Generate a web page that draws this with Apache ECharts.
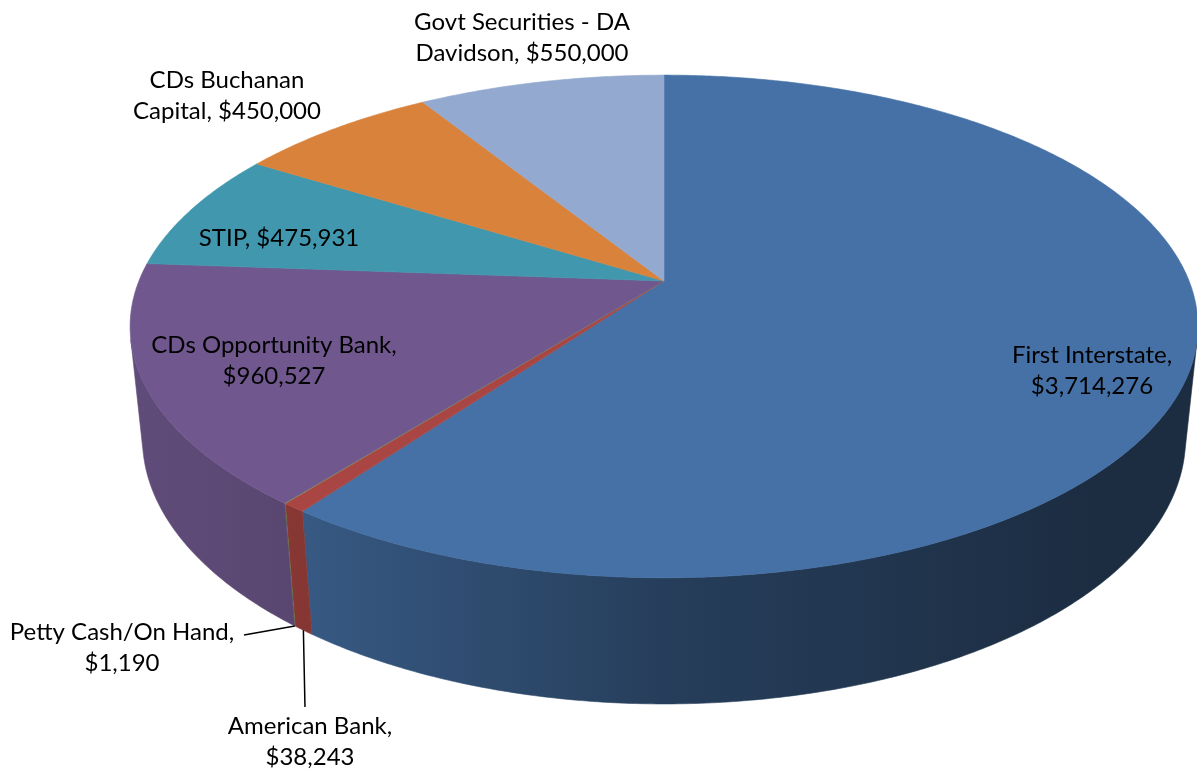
<!DOCTYPE html>
<html>
<head>
<meta charset="utf-8">
<script src="https://cdn.jsdelivr.net/npm/echarts@6/dist/echarts.min.js"></script>
<style>html,body{margin:0;padding:0;background:#fff;overflow:hidden}#c{width:1197px;height:774px}</style>
</head>
<body>
<div id="c"></div>
<script>
// ---- data ----
const categories = ['First Interstate', 'American Bank', 'Petty Cash/On Hand', 'CDs Opportunity Bank', 'STIP', 'CDs Buchanan Capital', 'Govt Securities - DA Davidson'];
const values = [3714276, 38243, 1190, 960527, 475931, 450000, 550000];
const colors = ['#4571A6', '#A94542', '#88A54C', '#70588E', '#4097AE', '#D9823B', '#93A9CF'];

// ---- layout (view + labels) ----
const VIEW = { cx: 664, cy: 281, F: 2573, D: 4.90, s: 0.463, c: 0.886, H: 0.243 };
// label block centers and number of words on first line (0 = single line)
const labelLayout = [
  { x: 1092, y: 371, words: 2 },
  { x: 310, y: 742, words: 2 },
  { x: 122, y: 648, words: 3 },
  { x: 274, y: 361, words: 3 },
  { x: 279, y: 238, words: 0 },
  { x: 227, y: 96, words: 2 },
  { x: 522, y: 38, words: 4 }
];
const leaderEnds = { 1: [305, 707], 2: [244, 635] };

const total = values.reduce((a, b) => a + b, 0);
let acc = 0;
const sliceData = values.map((v, i) => {
  const a0 = acc / total * 360; acc += v;
  const a1 = acc / total * 360;
  return { name: categories[i], value: [a0, a1, v] };
});

function proj(theta, h, r) {
  if (r === undefined) r = 1;
  const t = theta * Math.PI / 180;
  const u = r * Math.sin(t), v = -r * Math.cos(t);
  const depth = VIEW.D - h * VIEW.s - v * VIEW.c;
  return [VIEW.cx + VIEW.F * u / depth, VIEW.cy - VIEW.F * (h * VIEW.c - v * VIEW.s) / depth];
}
function shade(hex, f) {
  const n = parseInt(hex.slice(1), 16);
  const r = Math.round(((n >> 16) & 255) * f), g = Math.round(((n >> 8) & 255) * f), b = Math.round((n & 255) * f);
  return 'rgb(' + r + ',' + g + ',' + b + ')';
}
const shadeStops = [[0, 0.86], [0.16, 0.79], [0.5, 0.55], [0.9, 0.40], [1, 0.40]];
function sideFill(hex) {
  return new echarts.graphic.LinearGradient(130, 0, 1197, 0,
    shadeStops.map(s => ({ offset: s[0], color: shade(hex, s[1]) })), true);
}
const visK = 1 / (VIEW.D * VIEW.c);
const visA = Math.acos(-visK) * 180 / Math.PI, visB = 360 - visA;

function arc(a0, a1, h, step) {
  const pts = [];
  const n = Math.max(1, Math.ceil(Math.abs(a1 - a0) / step));
  for (let i = 0; i <= n; i++) pts.push(proj(a0 + (a1 - a0) * i / n, h));
  return pts;
}

function money(v) { return '$' + v.toLocaleString('en-US'); }
function labelText(i) {
  const words = (categories[i] + ',').split(' ').concat([money(values[i])]);
  const k = labelLayout[i].words;
  if (!k) return words.join(' ');
  return words.slice(0, k).join(' ') + '\n' + words.slice(k).join(' ');
}

const graphics = [];
categories.forEach((c, i) => {
  const L = labelLayout[i];
  graphics.push({
    type: 'text', x: L.x, y: L.y, silent: true, z: 10,
    style: { text: labelText(i), fill: '#000', font: '24px Lato', align: 'center', verticalAlign: 'middle', lineHeight: 31 }
  });
});
Object.keys(leaderEnds).forEach(k => {
  const i = +k;
  const mid = (sliceData[i].value[0] + sliceData[i].value[1]) / 2;
  const p = proj(mid, -VIEW.H);
  graphics.push({
    type: 'polyline', silent: true, z: 9,
    shape: { points: [p, leaderEnds[k]] },
    style: { stroke: '#000', lineWidth: 1.5, fill: null }
  });
});

const chart = echarts.init(document.getElementById('c'), null, { renderer: 'canvas' });
chart.setOption({
  animation: false,
  backgroundColor: '#ffffff',
  graphic: graphics,
  series: [
    {
      type: 'custom', name: 'sides', coordinateSystem: 'none', silent: true, z: 1,
      data: sliceData,
      renderItem: function (params, api) {
        const a0 = Math.max(api.value(0), visA), a1 = Math.min(api.value(1), visB);
        if (a1 <= a0) return null;
        const top = arc(a0, a1, 0, 0.5);
        const bot = arc(a1, a0, -VIEW.H, 0.5);
        const col = colors[params.dataIndex];
        const fill = sideFill(col);
        return { type: 'polygon', shape: { points: top.concat(bot) }, style: { fill: fill, stroke: fill, lineWidth: 0.6 } };
      }
    },
    {
      type: 'custom', name: 'tops', coordinateSystem: 'none', silent: true, z: 2,
      data: sliceData,
      renderItem: function (params, api) {
        const a0 = api.value(0), a1 = api.value(1);
        const pts = [proj(0, 0, 0)].concat(arc(a0, a1, 0, 0.5));
        const col = colors[params.dataIndex];
        return { type: 'polygon', shape: { points: pts }, style: { fill: col, stroke: col, lineWidth: 0.6 } };
      }
    }
  ]
});
</script>
</body>
</html>
